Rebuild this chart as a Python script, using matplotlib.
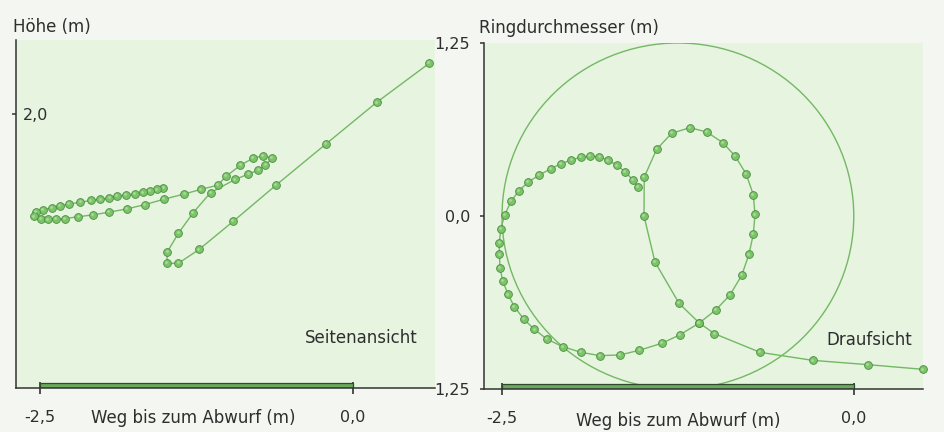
import matplotlib
matplotlib.use("Agg")
import matplotlib.pyplot as plt
import matplotlib.transforms as mtransforms
from matplotlib.patches import Circle

## ## ## ## ## ## ## ## ## ## ##
## data (m)
## ## ## ## ## ## ## ## ## ## ##
# Seitenansicht: weg bis zum abwurf vs hoehe
side_x = [-1.515, -1.568, -1.621, -1.680, -1.744, -1.811, -1.883, -1.946, -2.018, -2.093,
          -2.178, -2.266, -2.340, -2.408, -2.474, -2.536, -2.548, -2.496, -2.434, -2.370,
          -2.300, -2.194, -2.077, -1.949, -1.808, -1.660, -1.510, -1.347, -1.214, -1.081,
          -1.014, -0.899, -0.799, -0.719, -0.649, -0.699, -0.756, -0.836, -0.942, -1.138,
          -1.276, -1.395, -1.482, -1.488, -1.395, -1.230, -0.956, -0.613, -0.216, 0.189,
          0.609]
side_y = [1.460, 1.450, 1.438, 1.427, 1.416, 1.409, 1.401, 1.388, 1.377, 1.369,
          1.356, 1.343, 1.330, 1.315, 1.301, 1.288, 1.252, 1.234, 1.231, 1.234,
          1.237, 1.250, 1.264, 1.283, 1.307, 1.339, 1.378, 1.416, 1.450, 1.480,
          1.545, 1.626, 1.677, 1.696, 1.677, 1.626, 1.591, 1.561, 1.522, 1.426,
          1.280, 1.129, 0.995, 0.910, 0.910, 1.011, 1.217, 1.482, 1.781, 2.085,
          2.370]

# Draufsicht: weg bis zum abwurf vs seitliche lage
top_x = [-1.536, -1.571, -1.624, -1.681, -1.745, -1.808, -1.875, -1.941, -2.007, -2.079,
         -2.152, -2.235, -2.313, -2.381, -2.436, -2.481, -2.509, -2.519, -2.519, -2.514,
         -2.495, -2.457, -2.413, -2.346, -2.270, -2.182, -2.069, -1.939, -1.803, -1.661,
         -1.524, -1.365, -1.235, -1.098, -0.981, -0.880, -0.796, -0.745, -0.714, -0.702,
         -0.714, -0.766, -0.844, -0.931, -1.045, -1.164, -1.294, -1.401, -1.489, -1.491,
         -1.413, -1.242, -1.098, -0.991, -0.666, -0.292, 0.099, 0.494]
top_y = [0.210, 0.262, 0.318, 0.366, 0.402, 0.428, 0.434, 0.424, 0.405, 0.378,
         0.342, 0.296, 0.246, 0.181, 0.106, 0.007, -0.092, -0.193, -0.277, -0.374,
         -0.470, -0.566, -0.655, -0.744, -0.819, -0.889, -0.944, -0.985, -1.009, -1.004,
         -0.970, -0.920, -0.858, -0.773, -0.679, -0.571, -0.428, -0.277, -0.132, 0.012,
         0.154, 0.306, 0.434, 0.530, 0.607, 0.638, 0.598, 0.482, 0.282, 0.000,
         -0.332, -0.631, -0.773, -0.850, -0.985, -1.043, -1.074, -1.108]

ring_center = (-1.25, 0.0)
ring_radius = 1.25
run_start, run_end = -2.5, 0.0     # weg bis zum abwurf

side_xticks = [-2.5, 0.0]
side_xlabels = ["-2,5", "0,0"]
side_yticks = [2.0]
side_ylabels = ["2,0"]
top_xticks = [-2.5, 0.0]
top_xlabels = ["-2,5", "0,0"]
top_yticks = [-1.25, 0.0, 1.25]
top_ylabels = ["1,25", "0,0", "1,25"]

## ## ## ## ## ## ## ## ## ## ##
## styling
## ## ## ## ## ## ## ## ## ## ##
plt.rcParams["font.family"] = ["DejaVu Sans"]
txt_col = "#2e2e2e"
line_col = "#74b864"
dot_face = "#7cc36a"
dot_edge = "#4a8e40"
panel_bg = "#e6f4e0"
fig_bg = "#f4f6f1"

W, H = 944, 432
fig = plt.figure(figsize=(W / 100, H / 100), dpi=100, facecolor=fig_bg)

def px_axes(x0, y0, x1, y1):
    # pixel box (left, top, right, bottom) -> figure fraction
    return fig.add_axes([x0 / W, 1 - y1 / H, (x1 - x0) / W, (y1 - y0) / H])

ax1 = px_axes(16, 40, 435, 388)
ax2 = px_axes(484, 43, 923, 389)

def style(ax):
    ax.set_facecolor(panel_bg)
    for s in ["top", "right"]:
        ax.spines[s].set_visible(False)
    for s in ["left", "bottom"]:
        ax.spines[s].set_color("#333333")
        ax.spines[s].set_linewidth(1.1)
    ax.tick_params(axis="x", direction="inout", length=9, width=1.2, color="#333333",
                   labelsize=11.5, labelcolor=txt_col, pad=11)
    ax.tick_params(axis="y", direction="out", length=3, width=1.1, color="#333333",
                   labelsize=11.5, labelcolor=txt_col)

def beads(ax, xs, ys):
    # line with shaded "balls"
    ax.plot(xs, ys, "-o", color=line_col, lw=1.0, ms=5.6,
            mfc=dot_face, mec=dot_edge, mew=0.6, zorder=3, clip_on=False)
    shine = mtransforms.offset_copy(ax.transData, fig=fig, x=-0.6, y=0.6, units="points")
    ax.plot(xs, ys, "o", ms=2.0, color="#a8dc97", mew=0, transform=shine,
            zorder=4, clip_on=False)

## left: Seitenansicht
style(ax1)
ax1.set_xlim(-2.692, 0.655)
ax1.set_ylim(0, 2.54)
ax1.barh(0.019, run_end - run_start, left=run_start, height=0.038,
         color="#6aaa5a", edgecolor="#2f4a2f", linewidth=0.9, zorder=2)
beads(ax1, side_x, side_y)
ax1.set_xticks(side_xticks, side_xlabels)
ax1.set_yticks(side_yticks, side_ylabels)
ax1.tick_params(axis="y", pad=-8)
for lab in ax1.get_yticklabels():
    lab.set_horizontalalignment("left")
ax1.set_xlabel("Weg bis zum Abwurf (m)", fontsize=12, color=txt_col)
ax1.xaxis.label.set_va("center")
ax1.xaxis.set_label_coords(0.424, -0.086)
ax1.set_ylabel("Höhe (m)", fontsize=12, color=txt_col, rotation=0,
               ha="left", va="center")
ax1.yaxis.set_label_coords(-0.007, 1.037)
ax1.text(0.959, 0.144, "Seitenansicht", transform=ax1.transAxes,
         ha="right", va="center", fontsize=12, color=txt_col)

## right: Draufsicht
style(ax2)
ax2.set_xlim(-2.628, 0.492)
ax2.set_ylim(-1.25, 1.25)
ax2.add_patch(Circle(ring_center, ring_radius, fill=False, color=line_col,
                     lw=1.0, zorder=2))
ax2.barh(-1.25 + 0.019, run_end - run_start, left=run_start, height=0.038,
         color="#6aaa5a", edgecolor="#2f4a2f", linewidth=0.9, zorder=2)
beads(ax2, top_x, top_y)
ax2.set_xticks(top_xticks, top_xlabels)
ax2.set_yticks(top_yticks, top_ylabels)
ax2.tick_params(axis="y", pad=7)
ax2.set_xlabel("Weg bis zum Abwurf (m)", fontsize=12, color=txt_col)
ax2.xaxis.label.set_va("center")
ax2.xaxis.set_label_coords(0.4435, -0.092)
ax2.set_ylabel("Ringdurchmesser (m)", fontsize=12, color=txt_col, rotation=0,
               ha="left", va="center")
ax2.yaxis.set_label_coords(-0.011, 1.043)
ax2.text(0.975, 0.142, "Draufsicht", transform=ax2.transAxes,
         ha="right", va="center", fontsize=12, color=txt_col)

fig.savefig("out.png", dpi=100, facecolor=fig_bg)
